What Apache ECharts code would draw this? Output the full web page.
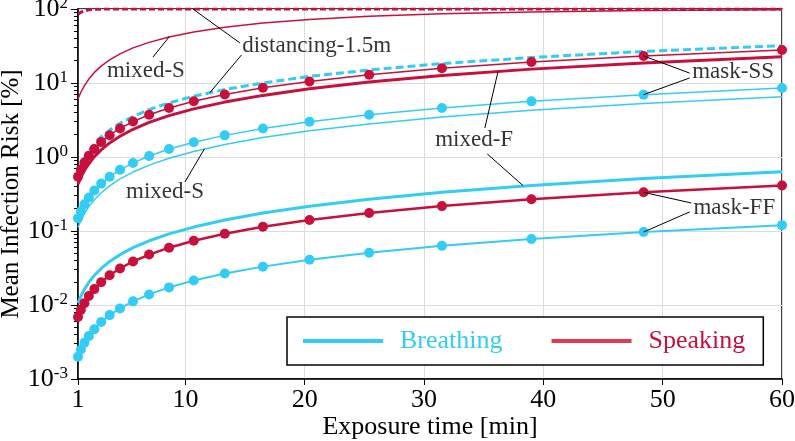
<!DOCTYPE html>
<html>

<head>
  <meta charset="utf-8">
  <title>Mean Infection Risk</title>
  <script src="https://cdn.jsdelivr.net/npm/echarts@6/dist/echarts.min.js"></script>
</head>

<body style="margin:0">
  <div id="main" style="width: 795px;height:441px;"></div>
  <script type="text/javascript">
    // exposure times (min) at which the curves are sampled
    var times = [1, 1.24, 1.54, 1.91, 2.37, 2.94, 3.65, 4.52, 5.61, 6.96, 8.63, 10.7, 13.3, 16.5, 20.4, 25.4, 31.5, 39.0, 48.4, 60];

    // speaking, mean infection risk [%]
    var speakDistancing = [85.0, 90.5, 94.6, 97.3, 98.9, 99.6, 99.9, 100, 100, 100, 100, 100, 100, 100, 100, 100, 100, 100, 100, 100];
    var speakMixedS = [6.1, 7.5, 9.2, 11.3, 13.9, 16.9, 20.5, 24.8, 29.8, 35.4, 41.9, 49.0, 56.7, 64.6, 72.3, 79.8, 86.3, 91.4, 95.3, 97.7];
    var speakMaskSS = [0.54, 0.67, 0.84, 1.04, 1.28, 1.59, 1.97, 2.43, 3.01, 3.72, 4.59, 5.67, 6.99, 8.61, 10.5, 12.9, 15.8, 19.2, 23.2, 27.9];
    var speakMixedF = [0.43, 0.53, 0.66, 0.81, 1.01, 1.25, 1.55, 1.91, 2.37, 2.93, 3.62, 4.47, 5.52, 6.80, 8.34, 10.3, 12.6, 15.4, 18.7, 22.6];
    var speakMaskFF = [0.0069, 0.0086, 0.0106, 0.0132, 0.0164, 0.0203, 0.0252, 0.0312, 0.0387, 0.0480, 0.0595, 0.0738, 0.0917, 0.114, 0.141, 0.175, 0.217, 0.269, 0.333, 0.413];

    // breathing
    var breathDistancing = [0.64, 0.79, 0.98, 1.22, 1.51, 1.87, 2.31, 2.86, 3.53, 4.37, 5.38, 6.63, 8.17, 10.0, 12.3, 15.0, 18.3, 22.1, 26.7, 31.9];
    var breathMaskSS = [0.149, 0.185, 0.229, 0.284, 0.353, 0.437, 0.542, 0.671, 0.832, 1.03, 1.28, 1.58, 1.96, 2.43, 3.00, 3.72, 4.59, 5.65, 6.96, 8.55];
    var breathMixedS = [0.112, 0.139, 0.172, 0.214, 0.265, 0.329, 0.408, 0.505, 0.626, 0.776, 0.962, 1.19, 1.48, 1.83, 2.26, 2.80, 3.47, 4.27, 5.28, 6.50];
    var breathMixedF = [0.0106, 0.0131, 0.0163, 0.0202, 0.0251, 0.0312, 0.0387, 0.0479, 0.0595, 0.0738, 0.0915, 0.113, 0.141, 0.175, 0.216, 0.269, 0.333, 0.412, 0.511, 0.634];
    var breathMaskFF = [0.0020, 0.0025, 0.0031, 0.0038, 0.0047, 0.0059, 0.0073, 0.0090, 0.0112, 0.0139, 0.0173, 0.0214, 0.0266, 0.0330, 0.0408, 0.0508, 0.0630, 0.0780, 0.0968, 0.120];

    var xTicks = [1, 10, 20, 30, 40, 50, 60];
    var minorMult = [2, 3, 4, 5, 6, 7, 8, 9];
    var decades = [0.001, 0.01, 0.1, 1, 10];

    // annotation texts [text, x, y] and leader lines [[x1, y1], [x2, y2]]
    var annoLabels = [
      ['mixed-S', 6.69, 14.5],
      ['distancing-1.5m', 21.0, 31.6],
      ['mixed-S', 8.29, 0.337],
      ['mixed-F', 34.2, 1.70],
      ['mask-SS', 55.9, 14.1],
      ['mask-FF', 56.0, 0.205]
    ];
    var annoLeaders = [
      [[7.28, 22.4], [8.63, 41.9]],
      [[14.57, 34.8], [10.63, 100]],
      [[14.7, 23.9], [12.05, 7.4]],
      [[9.96, 0.459], [11.6, 1.29]],
      [[35.1, 2.47], [36.2, 14.3]],
      [[35.3, 1.10], [38.3, 0.41]],
      [[52.26, 13.6], [48.4, 23.2]],
      [[52.26, 11.7], [48.4, 6.96]],
      [[52.4, 0.239], [48.4, 0.333]],
      [[52.26, 0.181], [48.4, 0.0968]]
    ];

    var RED = '#c8103c';
    var BLUE = '#33ccf5';
    var FONT = 'Liberation Serif';

    var minorTicks = [];
    decades.forEach(function (d) {
      minorMult.forEach(function (m) { minorTicks.push(m * d); });
    });

    function pairs(ys) {
      return times.map(function (t, i) { return [t, ys[i]]; });
    }

    function curve(name, ys, color, width, dash, markers) {
      return {
        name: name,
        type: 'line',
        data: pairs(ys),
        symbol: markers ? 'circle' : 'none',
        symbolSize: 10,
        showSymbol: !!markers,
        color: color,
        lineStyle: { color: color, width: width, type: dash || 'solid' },
        itemStyle: { color: color },
        silent: true
      };
    }

    var myChart = echarts.init(document.getElementById('main'));

    var option = {
      animation: false,
      textStyle: { fontFamily: FONT },
      grid: {
        left: 78, right: 13, top: 9, bottom: 62,
        outerBoundsMode: 'none',
        show: true, borderColor: '#000', borderWidth: 1.5
      },
      legend: {
        data: [
          { name: 'Breathing', textStyle: { color: BLUE } },
          { name: 'Speaking', textStyle: { color: RED } }
        ],
        left: 287,
        top: 317,
        padding: [10, 18, 10, 16],
        icon: 'rect',
        itemWidth: 80,
        itemHeight: 4,
        itemGap: 49,
        borderColor: '#000',
        borderWidth: 1.5,
        backgroundColor: '#fff',
        selectedMode: false,
        textStyle: { fontFamily: FONT, fontSize: 26, padding: [0, 0, 0, 12], lineHeight: 28 }
      },
      xAxis: {
        type: 'value',
        min: 1,
        max: 60,
        name: 'Exposure time [min]',
        nameLocation: 'middle',
        nameGap: 35,
        nameMoveOverlap: false,
        nameTextStyle: { fontFamily: FONT, fontSize: 26, color: '#000' },
        axisLine: { lineStyle: { color: '#000', width: 1.5 } },
        axisTick: { show: true, length: 6, customValues: xTicks, lineStyle: { color: '#000' } },
        axisLabel: { customValues: xTicks, fontFamily: FONT, fontSize: 26, color: '#000', margin: 8 },
        splitLine: { show: true, lineStyle: { color: '#dcdcdc' } }
      },
      yAxis: [
        {
          type: 'log',
          logBase: 10,
          min: 0.001,
          max: 100,
          name: 'Mean Infection Risk [%]',
          nameLocation: 'middle',
          nameGap: 54,
          nameMoveOverlap: false,
          nameTextStyle: { fontFamily: FONT, fontSize: 25, color: '#000' },
          axisLine: { show: true, lineStyle: { color: '#000', width: 1.5 } },
          axisTick: { show: true, length: 7, lineStyle: { color: '#000' } },
          axisLabel: {
            margin: 10,
            formatter: function (v) {
              var e = Math.round(Math.log10(v));
              return '{b|10}{s|' + e + '}';
            },
            rich: {
              b: { fontFamily: FONT, fontSize: 26, color: '#000' },
              s: { fontFamily: FONT, fontSize: 17, color: '#000', padding: [0, 0, 11, 0] }
            }
          },
          splitLine: { show: true, lineStyle: { color: '#dcdcdc' } }
        },
        {
          type: 'log',
          logBase: 10,
          min: 0.001,
          max: 100,
          position: 'left',
          axisLine: { show: false },
          axisLabel: { show: false },
          splitLine: { show: false },
          axisTick: { show: true, length: 4, customValues: minorTicks, lineStyle: { color: '#000' } }
        }
      ],
      series: [
        { name: 'Breathing', type: 'line', data: [], color: BLUE, symbol: 'none' },
        { name: 'Speaking', type: 'line', data: [], color: '#e33a4e', symbol: 'none' },
        curve('b-mixedF', breathMixedF, BLUE, 3, null, false),
        curve('b-maskFF', breathMaskFF, BLUE, 2, null, true),
        curve('b-mixedS', breathMixedS, BLUE, 1.5, null, false),
        curve('b-maskSS', breathMaskSS, BLUE, 1.5, null, true),
        curve('b-distancing', breathDistancing, BLUE, 3, [8, 4], false),
        curve('s-maskFF', speakMaskFF, RED, 2.5, null, true),
        curve('s-mixedF', speakMixedF, RED, 3, null, false),
        curve('s-maskSS', speakMaskSS, RED, 1.5, null, true),
        curve('s-mixedS', speakMixedS, RED, 1.5, null, false),
        curve('s-distancing', speakDistancing, RED, 3, [6, 3], false),
        {
          name: 'annotations',
          type: 'scatter',
          symbolSize: 1,
          itemStyle: { color: 'rgba(0,0,0,0)' },
          silent: true,
          z: 5,
          data: annoLabels.map(function (a) { return { name: a[0], value: [a[1], a[2]] }; }),
          label: {
            show: true,
            position: 'inside',
            formatter: '{b}',
            fontFamily: FONT,
            fontSize: 23,
            color: '#000'
          },
          markLine: {
            silent: true,
            symbol: 'none',
            animation: false,
            label: { show: false },
            lineStyle: { color: '#000', width: 1, type: 'solid' },
            data: annoLeaders.map(function (p) { return [{ coord: p[0] }, { coord: p[1] }]; })
          }
        }
      ]
    };

    myChart.setOption(option);
  </script>
</body>

</html>
